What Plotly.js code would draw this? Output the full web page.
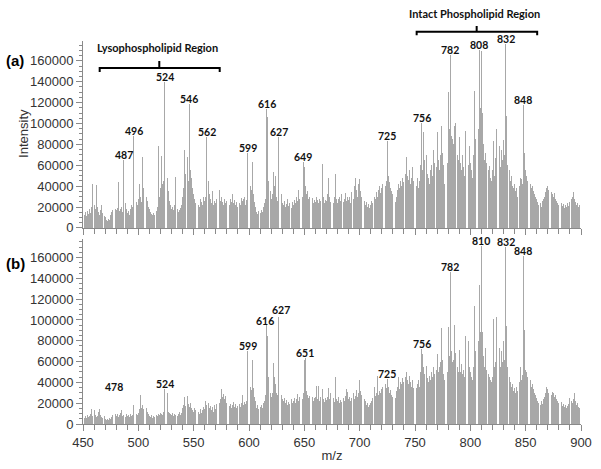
<!DOCTYPE html>
<html>
<head>
<meta charset="utf-8">
<script src="https://cdn.plot.ly/plotly-3.0.1.min.js"></script>
<style>
  body { margin: 0; background: #fff; }
  #spectra { width: 601px; height: 469px; }
</style>
</head>
<body>
<div id="spectra"></div>
<script>
// m/z axis starts here, one value per unit of m/z
var mzStart = 450;

// panel (a) intensities, in thousands, m/z 450..899
var intensityA = [
   9, 12, 15, 11, 16, 13, 18, 14, 20, 42,
  22, 18, 41, 20, 15, 12, 17, 22, 14, 11,
  10,  8,  7,  9,  8, 12, 15, 17, 43, 18,
  17, 19, 44, 16, 18, 20, 15, 65, 24, 18,
  14, 16, 12, 18, 22, 20, 88, 30, 25, 22,
  28, 42, 30, 25, 68, 38, 42, 30, 26, 20,
  18, 15, 13, 12, 14, 12, 16, 20, 78, 30,
  38, 69, 42, 45,140, 55, 48, 35, 26, 22,
  18, 20, 17, 22, 49, 18, 15, 17, 19, 22,
  30, 38, 75, 52, 68, 45,119, 55, 48, 38,
  32, 28, 24, 35, 22, 20, 28, 25, 22, 30,
  26, 30, 87, 45, 32, 28, 24, 35, 22, 26,
  24, 28, 20, 36, 26, 30, 25, 22, 28, 24,
  26, 30, 22, 28, 25, 32, 24, 27, 22, 25,
  20, 24, 22, 29, 26, 28, 30, 22, 27, 72,
  42, 40, 36, 63, 32, 25, 20, 15, 13, 16,
  14, 17, 15, 20, 24, 28,114,106, 45, 35,
  28, 32, 54, 40, 50, 30, 26, 87, 51, 32,
  24, 22, 26, 20, 23, 28, 21, 24, 19, 25,
  22, 27, 24, 30, 26, 36, 28, 25, 30, 63,
  58, 40, 32, 35, 28, 30, 25, 29, 24, 27,
  25, 30, 27, 24, 28, 26, 61, 30, 24, 27,
  26, 32, 48, 30, 25, 28, 24, 30, 52, 28,
  24, 28, 30, 26, 32, 25, 28, 33, 26, 30,
  27, 30, 24, 34, 28, 40, 48, 36, 30, 42,
  47, 35, 30, 28, 26, 22, 25, 20, 23, 19,
  22, 26, 24, 30, 28, 34, 30, 36, 40, 33,
  38, 42, 48, 40, 45, 83, 50, 44, 38, 35,
  32, 28, 25, 30, 36, 42, 38, 45, 40, 48,
  44, 52, 68, 50, 46, 55, 42, 48, 58, 45,
  55, 40, 48, 38, 45, 60,100, 55, 92, 65,
  70, 52, 48, 42, 55, 60, 50, 75, 62, 58,
  92, 65, 55, 70, 98, 72, 60, 42, 38, 62,
 130, 95,166, 88, 85, 80, 98,100, 70, 65,
  87, 62, 55, 70, 58, 50, 93, 65, 60, 78,
  62, 55, 48, 70,131, 85, 90, 95,170,115,
 169,110, 80, 65, 72, 62, 55, 59, 48, 45,
  55, 83, 50, 67, 95, 62, 78, 58, 75, 65,
  84, 70,176,107, 60, 55, 45, 50, 40, 38,
  42, 35, 38, 30, 40, 48, 47, 42,118, 72,
  55, 50, 45, 48, 42, 38, 40, 35, 32, 30,
  28, 25, 22, 24, 20, 26, 28, 30, 34, 38,
  40, 36, 38, 34, 32, 30, 33, 28, 26, 24,
  22, 20, 24, 21, 23, 19, 22, 20, 24, 21,
  25, 28, 30, 34, 28, 25, 22, 24, 20, 22
];

// panel (b) intensities, in thousands, m/z 450..899
var intensityB = [
   7,  6,  8,  6,  9,  7,  8, 10, 14,  8,
  13,  9,  7,  8, 12, 14,  9,  7,  6,  8,
   5,  4,  5,  4,  6,  5,  7,  9, 31, 10,
   8, 10,  7,  9, 11, 13,  8,  9,  7, 10,
   8,  9,  7, 10,  8,  9, 18,  8, 10,  9,
  11, 14, 28, 15, 18, 14, 29, 15, 12, 10,
   8,  7,  9,  6,  8,  7,  9,  8, 10,  9,
  11, 10,  9, 12, 34, 13, 30, 12, 11, 10,
   9, 11,  8, 10,  9,  8, 10, 12,  9, 11,
  15, 18, 26, 17, 27, 19, 16, 20, 15, 13,
  12, 15, 13, 18, 12, 10, 14, 11, 13, 16,
  14, 22, 18, 20, 15, 17, 13, 16, 12, 18,
  14, 19, 16, 20, 24, 34, 26, 29, 24, 27,
  20, 22, 17, 19, 15, 18, 21, 16, 19, 15,
  17, 19, 16, 20, 28, 18, 21, 19, 22, 70,
  38, 36, 33, 62, 35, 26, 22, 15, 18, 14,
  16, 18, 15, 20, 22, 28, 95, 85, 45, 30,
  26, 30, 59, 45, 38, 30, 28,103, 53, 28,
  24, 22, 25, 20, 23, 18, 21, 19, 24, 20,
  22, 25, 20, 24, 29, 22, 26, 21, 24, 30,
  62, 63, 32, 28, 25, 27, 23, 26, 22, 25,
  26, 37, 24, 37, 22, 26, 34, 24, 21, 25,
  23, 26, 35, 24, 30, 22, 25, 21, 45, 24,
  22, 26, 20, 23, 21, 25, 22, 27, 34, 31,
  24, 26, 22, 25, 30, 24, 27, 33, 26, 30,
  42, 32, 28, 39, 24, 22, 18, 20, 16, 18,
  20, 22, 25, 36, 27, 30, 46, 28, 32, 30,
  34, 36, 32, 38, 35, 43, 36, 30, 33, 28,
  26, 30, 25, 32, 36, 45, 34, 40, 38, 44,
  40, 45, 50, 42, 38, 46, 40, 36, 42, 35,
  40, 35, 38, 42, 36, 50, 72, 67, 55, 48,
  56, 44, 40, 46, 42, 50, 45, 55, 48, 52,
  67, 50, 55, 60, 92, 62, 48, 42, 38, 50,
  93, 65,146, 70, 60, 62, 95, 68, 55, 50,
  71, 50, 58, 48, 52, 45, 85, 60, 80, 55,
  50, 45, 42, 55,113, 70, 65, 80,134, 88,
 171, 88, 65, 55, 73, 52, 48, 45, 42, 40,
  45,101, 55, 60,103, 65, 73, 55, 70, 60,
  80, 62,170, 94, 55, 45, 40, 36, 38, 32,
  35, 30, 36, 32, 40, 55, 42, 47,162, 90,
  52, 50, 45, 40, 42, 36, 38, 34, 30, 28,
  25, 22, 20, 18, 22, 19, 24, 26, 30, 36,
  34, 30, 33, 28, 31, 30, 26, 28, 24, 22,
  20, 18, 21, 17, 19, 16, 18, 15, 17, 19,
  25, 22, 20, 24, 30, 22, 18, 20, 16, 15
];

// labelled peaks (m/z)
var peaksA = [487, 496, 524, 546, 562, 599, 616, 627, 649, 725, 756, 782, 808, 832, 848];
var peaksB = [478, 524, 599, 616, 627, 651, 725, 756, 782, 810, 832, 848];

var mz = intensityA.map((v, i) => mzStart + i);
var toCounts = arr => arr.map(v => v * 1000);

var barColor = '#a8a8a8';

var traceA = {
    x: mz, y: toCounts(intensityA), type: 'bar',
    xaxis: 'x', yaxis: 'y',
    marker: {color: barColor, line: {width: 0}},
    width: 0.85, hoverinfo: 'skip'
};
var traceB = {
    x: mz, y: toCounts(intensityB), type: 'bar',
    xaxis: 'x2', yaxis: 'y2',
    marker: {color: barColor, line: {width: 0}},
    width: 0.85, hoverinfo: 'skip'
};

var boldFont = {family: 'Lato, "Open Sans", sans-serif', size: 10.5, color: '#111', weight: 'bold'};
var regionFont = {family: 'Lato, "Open Sans", sans-serif', size: 11, color: '#111', weight: 'bold'};

// the two close labels in panel (b) are pushed apart a little
var labelNudge = {'x2:616': [-2, -1], 'x2:627': [2, 2]};

// peak labels sit on top of their bars
function peakLabels(peaks, values, xr, yr) {
    return peaks.map(p => {
        var n = labelNudge[xr + ':' + p] || [0, 0];
        return {
            x: p, y: values[p - mzStart] * 1000,
            xref: xr, yref: yr,
            text: String(p), showarrow: false,
            xanchor: 'center', yanchor: 'bottom',
            xshift: n[0], yshift: -3 + n[1],
            font: boldFont
        };
    });
}

var panelFont = {family: '"Liberation Sans", Arial, sans-serif', size: 15, color: '#000', weight: 'bold'};
var titleFont = {family: '"Liberation Sans", Arial, sans-serif', size: 13, color: '#333'};

function paperText(x, y, text, font, angle) {
    return {x: x, y: y, xref: 'paper', yref: 'paper', text: text, showarrow: false,
            xanchor: 'center', yanchor: 'middle', textangle: angle || 0, font: font};
}

var annotations = peakLabels(peaksA, intensityA, 'x', 'y')
    .concat(peakLabels(peaksB, intensityB, 'x2', 'y2'))
    .concat([
        paperText(0.1506, 0.982, 'Lysophospholipid Region', regionFont),
        paperText(0.787, 1.071, 'Intact Phospholipid Region', regionFont),
        paperText(-0.1365, 0.948, '(a)', panelFont),
        paperText(-0.1365, 0.420, '(b)', panelFont),
        paperText(-0.1185, 0.760, 'Intensity', titleFont, -90)
    ]);

// square brackets over the two regions
function bracket(x0, x1, xc, y, yEnd, yTop) {
    return {
        type: 'path', xref: 'paper', yref: 'paper',
        path: 'M' + x0 + ',' + yEnd + ' L' + x0 + ',' + y + ' L' + x1 + ',' + y + ' L' + x1 + ',' + yEnd +
              ' M' + xc + ',' + y + ' L' + xc + ',' + yTop,
        line: {color: '#000', width: 2}
    };
}

var axisLine = '#8a8a8a';
var tickFont = {family: '"Liberation Sans", Arial, sans-serif', size: 13, color: '#333'};

var yCommon = {
    dtick: 20000, tickformat: 'd', ticks: 'outside', ticklen: 6, tickcolor: axisLine,
    minor: {dtick: 5000, ticks: 'outside', ticklen: 3, tickcolor: axisLine},
    showline: true, linecolor: axisLine, showgrid: false, zeroline: false,
    tickfont: tickFont
};
var xCommon = {
    range: [450, 900], dtick: 50, ticks: 'outside', ticklen: 6, tickcolor: axisLine,
    minor: {dtick: 10, ticks: 'outside', ticklen: 5, tickcolor: axisLine},
    showline: true, linecolor: axisLine, showgrid: false, zeroline: false,
    tickfont: tickFont
};

var layout = {
    width: 601, height: 469,
    margin: {l: 83, r: 20, t: 41, b: 45},
    paper_bgcolor: '#fff', plot_bgcolor: '#fff',
    showlegend: false, bargap: 0,
    font: tickFont,
    xaxis: Object.assign({}, xCommon, {anchor: 'y', showticklabels: false}),
    yaxis: Object.assign({}, yCommon, {domain: [0.512, 1], range: [0, 179000]}),
    xaxis2: Object.assign({}, xCommon, {anchor: 'y2',
        title: {text: 'm/z', standoff: 2, font: titleFont}}),
    yaxis2: Object.assign({}, yCommon, {domain: [0, 0.482], range: [0, 177500]}),
    annotations: annotations,
    shapes: [
        bracket(0.0335, 0.2745, 0.1532, 0.9295, 0.919, 0.948),
        bracket(0.670, 0.912, 0.7905, 1.0243, 1.015, 1.039)
    ]
};

Plotly.newPlot('spectra', [traceA, traceB], layout, {staticPlot: true});
</script>
</body>
</html>
